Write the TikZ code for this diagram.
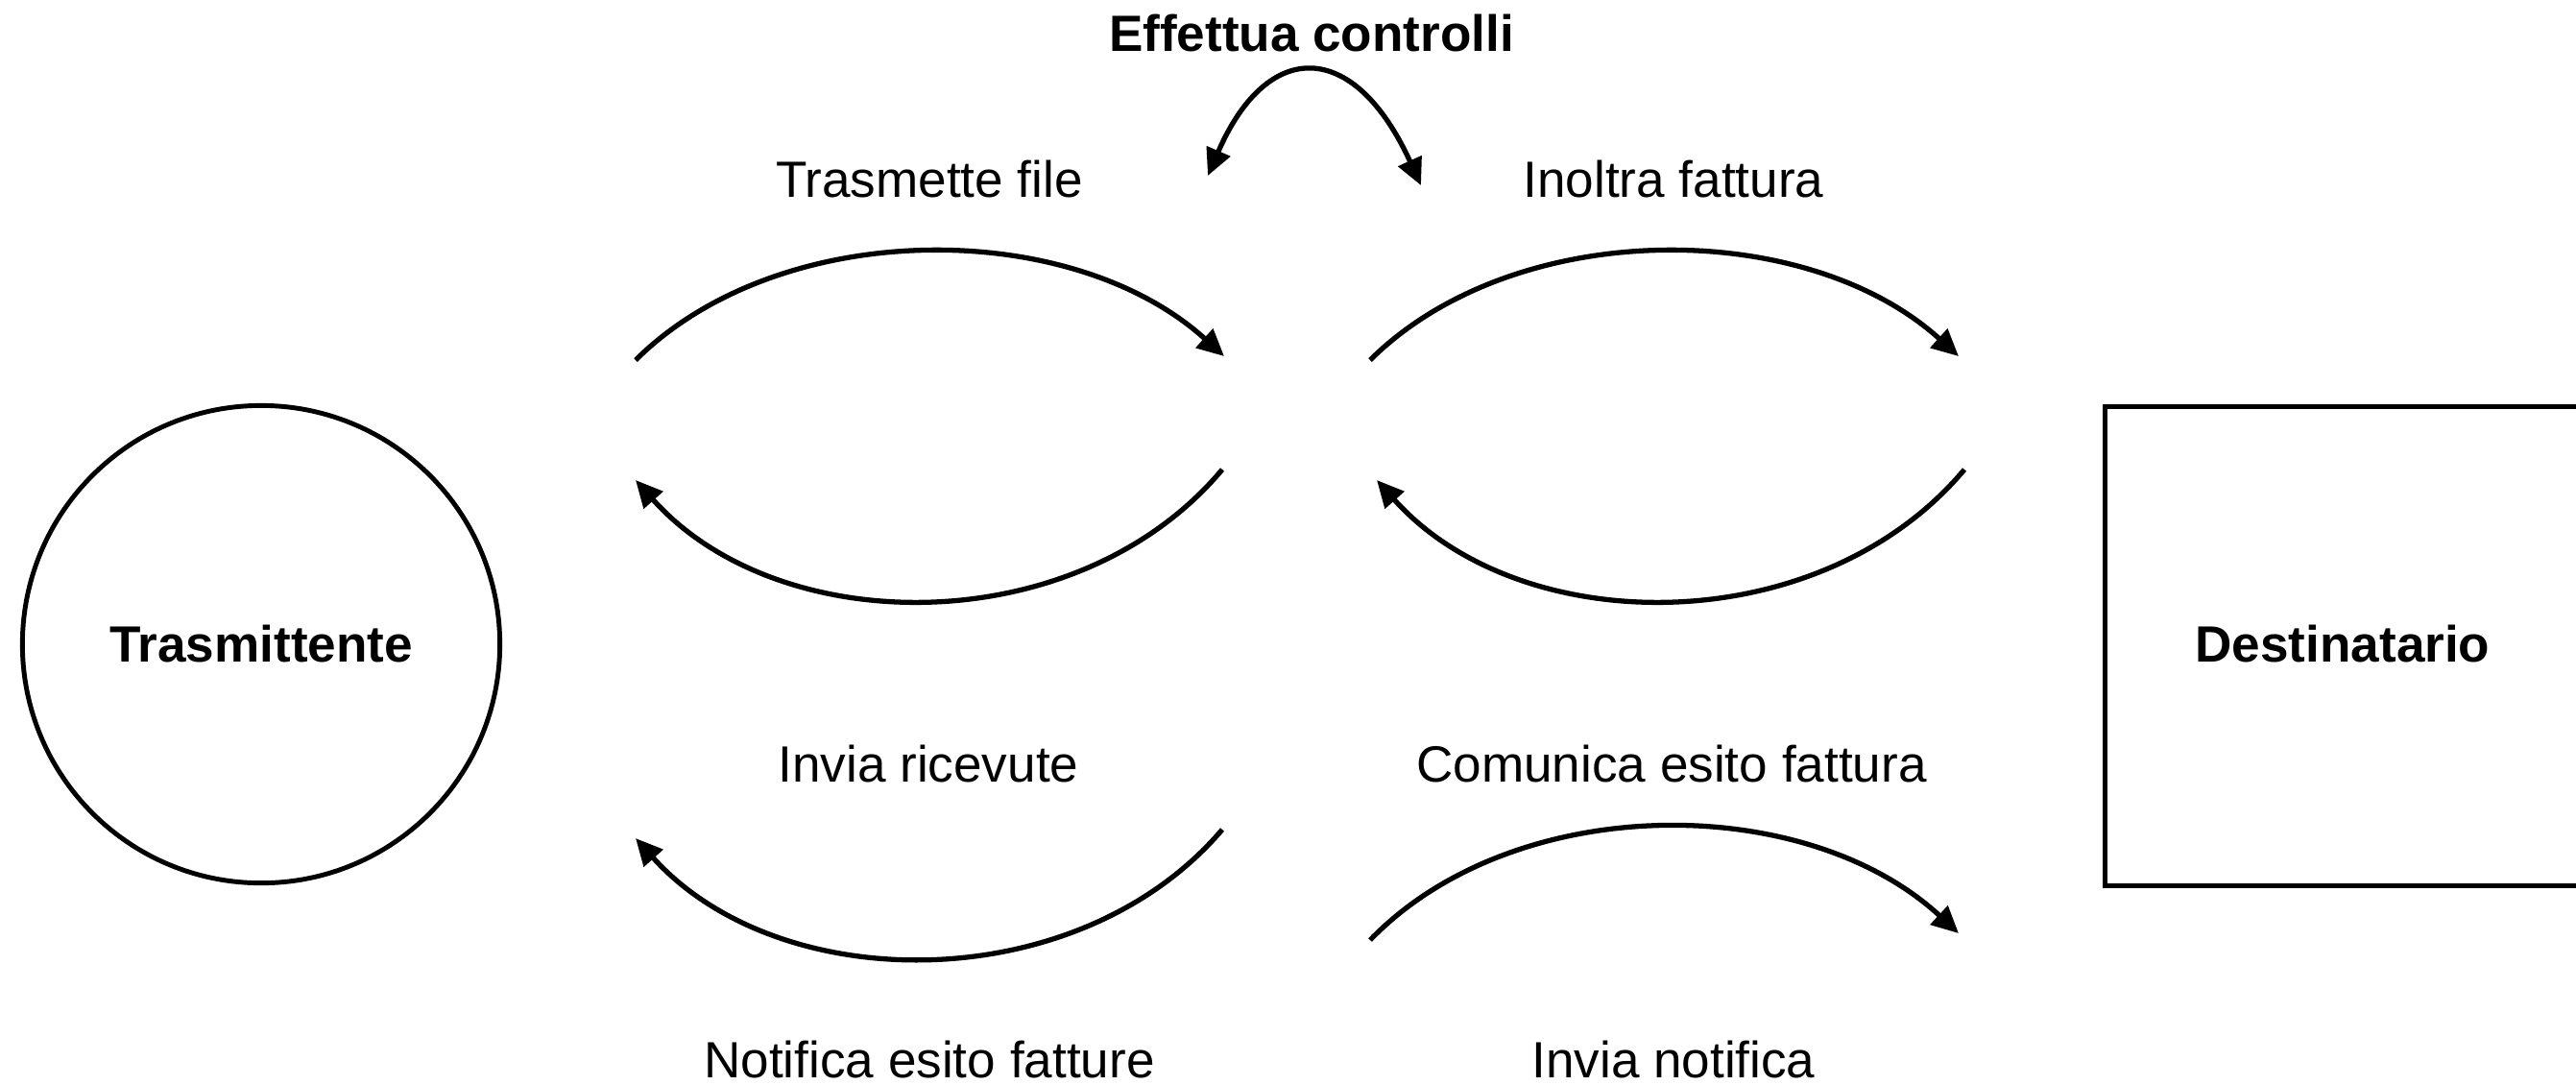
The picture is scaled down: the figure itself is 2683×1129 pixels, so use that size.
\documentclass[tikz,border=0pt]{standalone}
\usepackage{fontspec}
\setmainfont{Liberation Sans}
\usetikzlibrary{arrows.meta}
\begin{document}
\begin{tikzpicture}[x=0.01cm,y=-0.01cm,
  lbl/.style={font=\fontsize{15.1pt}{18pt}\selectfont, inner sep=0pt, anchor=base},
  blbl/.style={font=\fontsize{15.1pt}{18pt}\selectfont\bfseries, inner sep=0pt},
  tip/.style={Triangle[length=0.28cm,width=0.26cm]},
  flow/.style={line width=1.5pt, -{Triangle[length=0.28cm,width=0.26cm]}},
  twoway/.style={line width=1.5pt, {Triangle[length=0.28cm,width=0.26cm]}-{Triangle[length=0.28cm,width=0.26cm]}},
  shapeline/.style={draw, line width=1.4pt}
]
\useasboundingbox (0,0) rectangle (2683,1129);

% entities
\node[shapeline, circle, minimum size=4.97cm, inner sep=0pt, blbl] (tras) at (272,671) {Trasmittente};
\node[shapeline, rectangle, minimum width=4.99cm, minimum height=4.99cm, anchor=north west] (destbox) at (2190,421) {};
\node[blbl] (dest) at (2440,671) {Destinatario};

% labels
\node[blbl, anchor=base] (ctrl) at (1366,53) {Effettua controlli};
\node[lbl] (l1) at (968,205) {Trasmette file};
\node[lbl] (l2) at (1743,205) {Inoltra fattura};
\node[lbl] (l3) at (967,814) {Invia ricevute};
\node[lbl] (l4) at (1741,814) {Comunica esito fattura};
\node[lbl] (l5) at (968,1122) {Notifica esito fatture};
\node[lbl] (l6) at (1743,1122) {Invia notifica};

% arc end points
\coordinate (c1) at (1258,183);
\coordinate (c2) at (1480,193);
\coordinate (a1s) at (662,375);  \coordinate (a1e) at (1275,371);
\coordinate (a2s) at (1273,489); \coordinate (a2e) at (662,500);
\coordinate (a3s) at (1427,375); \coordinate (a3e) at (2040,371);
\coordinate (a4s) at (2046,489); \coordinate (a4e) at (1434,500);
\coordinate (a5s) at (1273,864); \coordinate (a5e) at (662,873);
\coordinate (a6s) at (1427,979); \coordinate (a6e) at (2040,972);

% controls loop
\draw[twoway] (c1) .. controls (1320,40) and (1410,40) .. (c2);

% flows
\draw[flow] (a1s) .. controls (812,226) and (1115,226) .. (a1e);
\draw[flow] (a2s) .. controls (1123,668) and (812,668) .. (a2e);
\draw[flow] (a3s) .. controls (1577,226) and (1880,226) .. (a3e);
\draw[flow] (a4s) .. controls (1896,668) and (1584,668) .. (a4e);
\draw[flow] (a5s) .. controls (1123,1040) and (812,1040) .. (a5e);
\draw[flow] (a6s) .. controls (1577,824) and (1880,824) .. (a6e);
\end{tikzpicture}
\end{document}
